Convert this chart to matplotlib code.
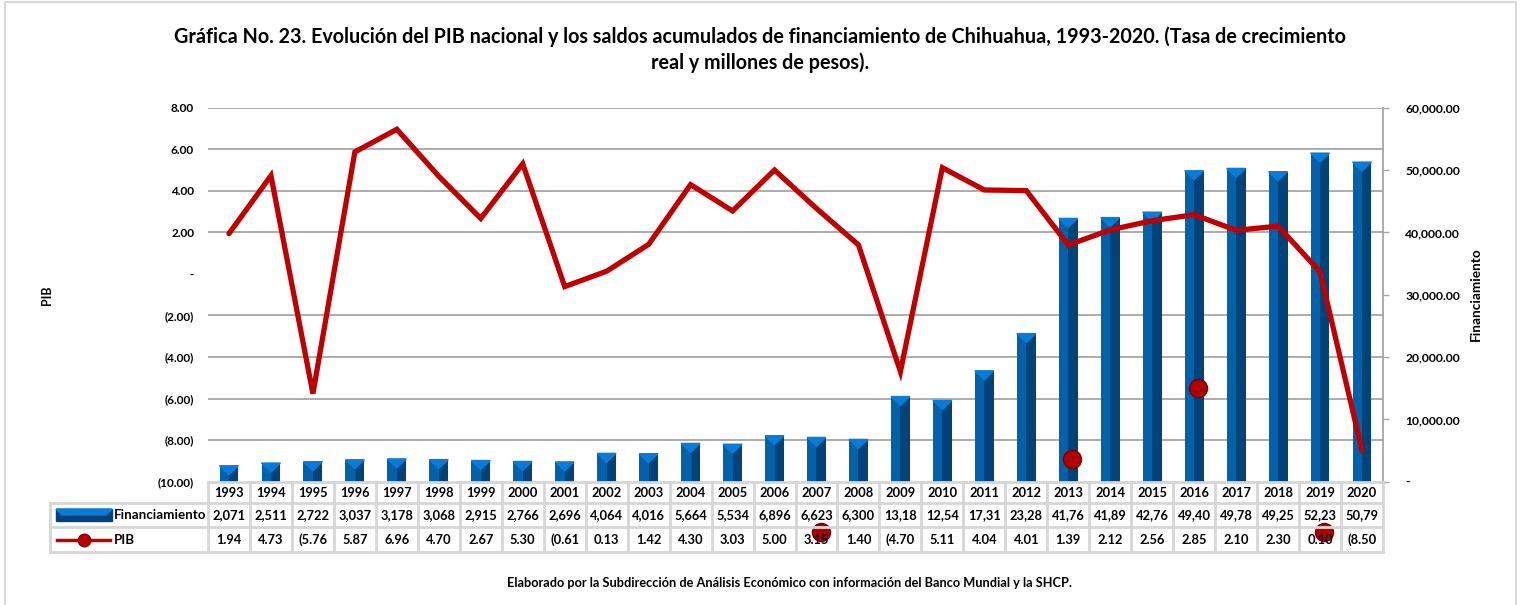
import matplotlib
matplotlib.use("Agg")
import matplotlib.pyplot as plt
from matplotlib.patches import Polygon, Rectangle
from matplotlib.lines import Line2D
from matplotlib.ticker import FuncFormatter, MultipleLocator

plt.rcParams['font.family'] = ['Lato', 'DejaVu Sans']
plt.rcParams['font.weight'] = 'bold'

# datos
anios = list(range(1993, 2021))
financiamiento = [2071, 2511, 2722, 3037, 3178, 3068, 2915, 2766, 2696, 4064,
                  4016, 5664, 5534, 6896, 6623, 6300, 13180, 12540, 17310, 23280,
                  41760, 41890, 42760, 49400, 49780, 49250, 52230, 50790]
pib = [1.94, 4.73, -5.76, 5.87, 6.96, 4.70, 2.67, 5.30, -0.61, 0.13,
       1.42, 4.30, 3.03, 5.00, 3.15, 1.40, -4.70, 5.11, 4.04, 4.01,
       1.39, 2.12, 2.56, 2.85, 2.10, 2.30, 0.10, -8.50]
# marcadores sueltos que aparecen en la imagen (año, valor en eje PIB)
sueltos_anio = [2007, 2013, 2016, 2019]
sueltos_val = [-12.4, -8.9, -5.5, -12.4]

titulo = ("Gráfica No. 23. Evolución del PIB nacional y los saldos acumulados de "
          "financiamiento de Chihuahua, 1993-2020. (Tasa de crecimiento\nreal y millones de pesos).")
nota = ("Elaborado por la Subdirección de Análisis Económico con información "
        "del Banco Mundial y la SHCP.")

W, H = 1523, 605
fig = plt.figure(figsize=(W / 100, H / 100), dpi=100)


def fx(x):
    return x / W


def fy(y):
    return 1 - y / H


# borde exterior
fig.patches.append(Rectangle((fx(5), fy(640)), fx(1511), 638 / H,
                             transform=fig.transFigure, fill=False,
                             edgecolor='#D9D9D9', lw=1.5))

x_left, x_right, y_top, y_bot = 208, 1383, 107.7, 481.7
ax = fig.add_axes([fx(x_left), fy(y_bot), fx(x_right - x_left), (y_bot - y_top) / H])
ax2 = ax.twinx()
ax.set_zorder(ax2.get_zorder() + 1)
ax.patch.set_visible(False)

n = len(anios)
xs = list(range(n))
w = 0.45

# barras de financiamiento (efecto 3D simple)
px = 60000 / (y_bot - y_top)
extra = 3 * px
ax2.bar([x - w / 2 for x in xs], [v + extra for v in financiamiento], width=w / 2,
        align='edge', color='#0062AA', zorder=3)
ax2.bar(xs, [v + extra for v in financiamiento], width=w / 2, align='edge',
        color='#00437A', zorder=3)
ax2.set_ylim(0, 60000)
d = 9 * px
for x, v in zip(xs, financiamiento):
    top = v + extra
    ax2.add_patch(Polygon([(x - w / 2, top), (x + w / 2, top), (x, max(top - d, 0))],
                          closed=True, color='#0A7CD6', zorder=4))

# línea PIB
ax.plot(xs, pib, color='#C00000', lw=3.8, solid_capstyle='round',
        solid_joinstyle='miter', zorder=5)
ax.scatter([anios.index(a) + 0.1 for a in sueltos_anio], sueltos_val, s=170,
           color='#B00000', edgecolor='#7A0000', zorder=6, clip_on=False)
ax.set_ylim(-10, 8)
ax.set_xlim(-0.5, n - 0.5)
ax.yaxis.set_major_locator(MultipleLocator(2))


def fmt_pib(v, pos):
    if abs(v) < 1e-9:
        return '-'
    if v < 0:
        return '({:.2f})'.format(-v)
    return '{:.2f}'.format(v)


def fmt_fin(v, pos):
    if abs(v) < 1e-9:
        return '-'
    return '{:,.2f}'.format(v)


ax.yaxis.set_major_formatter(FuncFormatter(fmt_pib))
ax2.yaxis.set_major_locator(MultipleLocator(10000))
ax2.yaxis.set_major_formatter(FuncFormatter(fmt_fin))
for t in range(-8, 10, 2):
    if t != 0:
        ax2.axhline((t + 10) / 18 * 60000, color='#A6A6A6', lw=1.3, zorder=1)

ax.tick_params(axis='y', length=0, pad=10, labelsize=8.5)
ax2.tick_params(axis='y', length=4, width=1, color='#A6A6A6', pad=12, labelsize=8.7)
ax.set_xticks([])
for s in ['top', 'bottom', 'left']:
    ax.spines[s].set_visible(False)
    ax2.spines[s].set_visible(False)
ax.spines['right'].set_visible(False)
ax2.spines['right'].set_color('#A6A6A6')
ax2.spines['right'].set_linewidth(1.3)

fig.text(fx(47), fy(295), 'PIB', rotation=90, ha='center', va='center', fontsize=9)
fig.text(fx(1476), fy(294), 'Financiamiento', rotation=90, ha='center', va='center',
         fontsize=9.8)

# tabla de datos
colw = (x_right - x_left) / n
rows = [482, 503, 527, 552]
grid = dict(color='#D6D6D6', lw=2, transform=fig.transFigure)
fig.add_artist(Line2D([fx(x_left), fx(x_right)], [fy(rows[0])] * 2, **grid))
for r in rows[1:]:
    fig.add_artist(Line2D([fx(50), fx(x_right)], [fy(r)] * 2, **grid))
for i in range(n + 1):
    xx = x_left + i * colw
    fig.add_artist(Line2D([fx(xx)] * 2, [fy(rows[0]), fy(rows[3])], **grid))
fig.add_artist(Line2D([fx(50)] * 2, [fy(rows[1]), fy(rows[3])], **grid))

for i, a in enumerate(anios):
    cx = x_left + (i + 0.5) * colw
    fig.text(fx(cx), fy(493), str(a), ha='center', va='center', fontsize=9.3)
    fig.text(fx(cx), fy(515), '{:,}'.format(financiamiento[i])[:5], ha='center',
             va='center', fontsize=9.3)
    p = pib[i]
    txt = '({:.2f})'.format(-p) if p < 0 else '{:.2f}'.format(p)
    fig.text(fx(cx), fy(540), txt[:5], ha='center', va='center', fontsize=9.3)

# claves de la tabla
fig.patches.append(Rectangle((fx(56), fy(521)), fx(56), 12 / H, transform=fig.transFigure,
                             color='#00437A'))
fig.patches.append(Polygon([(fx(56), fy(509)), (fx(112), fy(509)), (fx(106), fy(515)),
                            (fx(62), fy(515))], closed=True, transform=fig.transFigure,
                           color='#0A7CD6'))
fig.text(fx(114), fy(515), 'Financiamiento', ha='left', va='center', fontsize=9.6)
fig.add_artist(Line2D([fx(57), fx(110)], [fy(540)] * 2, color='#C00000', lw=2.5,
                      transform=fig.transFigure))
fig.add_artist(Line2D([fx(84)], [fy(540)], color='#C00000', marker='o', markersize=9,
                      markeredgecolor='#800000', transform=fig.transFigure))
fig.text(fx(114), fy(540), 'PIB', ha='left', va='center', fontsize=9.6)

fig.text(fx(760), fy(50), titulo, ha='center', va='center', fontsize=14.2,
         linespacing=1.35)
fig.text(fx(789), fy(583), nota, ha='center', va='center', fontsize=9.2)

fig.savefig('out.png', dpi=100)
